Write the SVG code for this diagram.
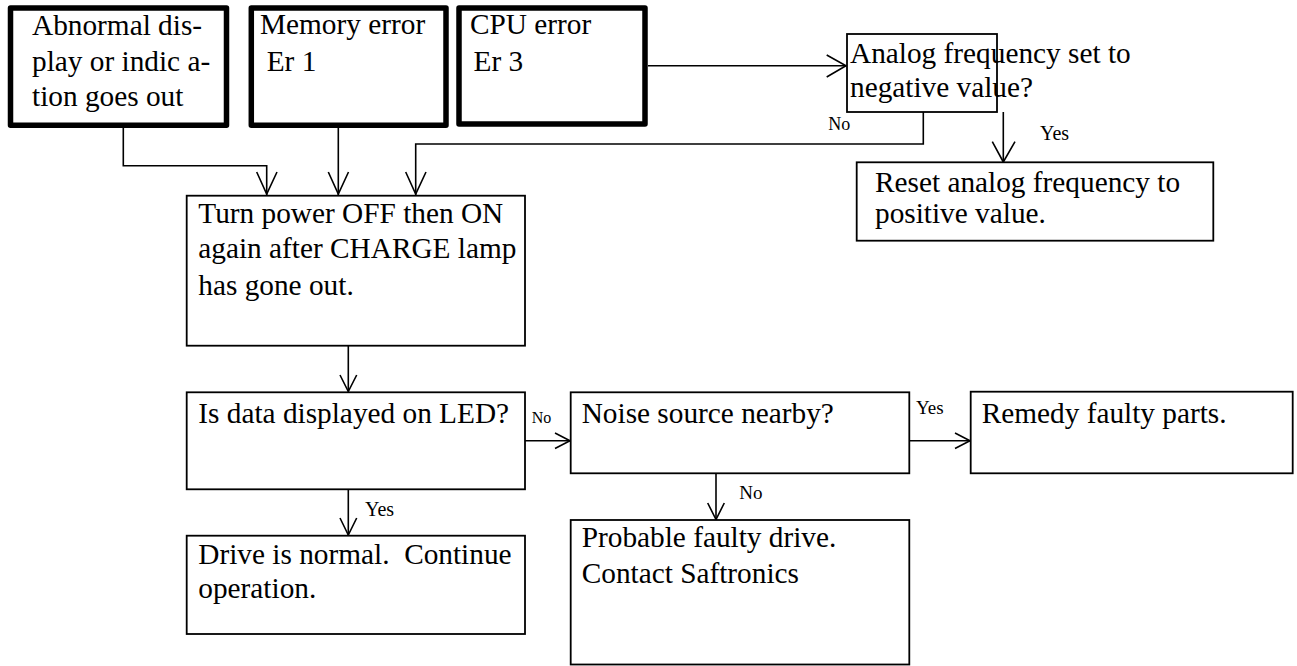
<svg xmlns="http://www.w3.org/2000/svg" width="1297" height="666" viewBox="0 0 1297 666">
<style>
  .thick { fill: #fff; stroke: #000; stroke-width: 5.5; stroke-linejoin: round; }
  .box { fill: #fff; stroke: #000; stroke-width: 1.8; }
  text { font-family: "Liberation Serif", serif; fill: #000; }
  .t { font-size: 29.3px; }
  .ln { fill: none; stroke: #000; stroke-width: 1.6; }
  .ah { fill: none; stroke: #000; stroke-width: 1.6; stroke-linejoin: miter; }
</style>
<rect width="1297" height="666" fill="#fff"/>

<g id="connectors" font-family="Liberation Serif">
  <polyline class="ln" points="123.3,128 123.3,165.7 266.7,165.7 266.7,195"/>
  <polyline class="ah" points="256.7,172 266.7,194 277,172"/>
  <line class="ln" x1="338.3" y1="128" x2="338.3" y2="195"/>
  <polyline class="ah" points="328.3,172 338.3,194 348.5,172"/>
  <polyline class="ln" points="923.3,112 923.3,144 415.7,144 415.7,195"/>
  <polyline class="ah" points="405.7,172 415.7,194 426,172"/>
  <line class="ln" x1="648" y1="65.7" x2="846" y2="65.7"/>
  <polyline class="ah" points="826.7,55 846,65.7 826.7,77"/>
  <line class="ln" x1="1003.3" y1="112" x2="1003.3" y2="162"/>
  <polyline class="ah" points="992.3,141.7 1003.3,162 1015,141.7"/>
  <line class="ln" x1="348.3" y1="345.7" x2="348.3" y2="391.5"/>
  <polyline class="ah" points="340,375 348.3,391.5 356.7,375"/>
  <line class="ln" x1="348.3" y1="489.3" x2="348.3" y2="535"/>
  <polyline class="ah" points="340,518 348.3,535 356.7,518"/>
  <line class="ln" x1="525" y1="440.7" x2="570" y2="440.7"/>
  <polyline class="ah" points="555,433 570,440.7 555,448.5"/>
  <line class="ln" x1="909.3" y1="440.7" x2="970" y2="440.7"/>
  <polyline class="ah" points="955,433 970,440.7 955,448.5"/>
  <line class="ln" x1="716" y1="473.3" x2="716" y2="519.5"/>
  <polyline class="ah" points="707.7,503 716,519.5 724.3,503"/>
  <text x="828.3" y="130" font-size="18" font-family="Liberation Serif">No</text>
  <text x="1040" y="140" font-size="20" font-family="Liberation Serif">Yes</text>
  <text x="531.7" y="423.3" font-size="16" font-family="Liberation Serif">No</text>
  <text x="365" y="515.7" font-size="20" font-family="Liberation Serif">Yes</text>
  <text x="916" y="414.3" font-size="19" font-family="Liberation Serif">Yes</text>
  <text x="739.3" y="499.3" font-size="19" font-family="Liberation Serif">No</text>
</g>

<g id="abnormal" font-family="Liberation Serif">
  <rect class="thick" x="10.5" y="8" width="216" height="117.3"/>
  <text class="t" x="32" y="34.5" font-family="Liberation Serif">Abnormal dis-</text>
  <text class="t" x="32" y="71" font-family="Liberation Serif">play or indic a-</text>
  <text class="t" x="32" y="106" font-family="Liberation Serif">tion goes out</text>
</g>

<g id="memory" font-family="Liberation Serif">
  <rect class="thick" x="251.3" y="8" width="194.7" height="117.3"/>
  <text class="t" x="260" y="34.3" font-family="Liberation Serif">Memory error</text>
  <text class="t" x="266.7" y="71" font-family="Liberation Serif">Er 1</text>
</g>

<g id="cpu" font-family="Liberation Serif">
  <rect class="thick" x="459" y="8" width="186" height="116"/>
  <text class="t" x="470" y="34" font-family="Liberation Serif">CPU error</text>
  <text class="t" x="473.5" y="71" font-family="Liberation Serif">Er 3</text>
</g>

<g id="analog" font-family="Liberation Serif">
  <rect class="box" x="847" y="34" width="150" height="78"/>
  <text class="t" x="850" y="63.3" font-family="Liberation Serif">Analog frequency set to</text>
  <text class="t" x="850" y="96.7" font-family="Liberation Serif">negative value?</text>
</g>

<g id="reset" font-family="Liberation Serif">
  <rect class="box" x="856.7" y="162.3" width="356.6" height="78.4"/>
  <text class="t" x="875" y="191.7" font-family="Liberation Serif">Reset analog frequency to</text>
  <text class="t" x="875" y="223" font-family="Liberation Serif">positive value.</text>
</g>

<g id="turnpower" font-family="Liberation Serif">
  <rect class="box" x="186.7" y="195.7" width="338.3" height="150"/>
  <text class="t" x="198.3" y="223.3" font-family="Liberation Serif">Turn power OFF then ON</text>
  <text class="t" x="198.3" y="258.3" font-family="Liberation Serif">again after CHARGE lamp</text>
  <text class="t" x="198.3" y="295" font-family="Liberation Serif">has gone out.</text>
</g>

<g id="led" font-family="Liberation Serif">
  <rect class="box" x="186.7" y="392.3" width="338.3" height="97"/>
  <text class="t" x="198.3" y="423.3" font-family="Liberation Serif">Is data displayed on LED?</text>
</g>

<g id="drive" font-family="Liberation Serif">
  <rect class="box" x="186.7" y="535.7" width="338.3" height="98.3"/>
  <text class="t" x="198.3" y="564.3" xml:space="preserve" font-family="Liberation Serif">Drive is normal.  Continue</text>
  <text class="t" x="198.3" y="598.3" font-family="Liberation Serif">operation.</text>
</g>

<g id="noise" font-family="Liberation Serif">
  <rect class="box" x="570.7" y="392.3" width="338.6" height="81"/>
  <text class="t" x="581.7" y="423.3" font-family="Liberation Serif">Noise source nearby?</text>
</g>

<g id="probable" font-family="Liberation Serif">
  <rect class="box" x="570.7" y="520" width="338.6" height="144.5"/>
  <text class="t" x="581.7" y="546.7" font-family="Liberation Serif">Probable faulty drive.</text>
  <text class="t" x="581.7" y="582.7" font-family="Liberation Serif">Contact Saftronics</text>
</g>

<g id="remedy" font-family="Liberation Serif">
  <rect class="box" x="970.7" y="391.7" width="322" height="81.6"/>
  <text class="t" x="981.7" y="422.7" font-family="Liberation Serif">Remedy faulty parts.</text>
</g>
</svg>
